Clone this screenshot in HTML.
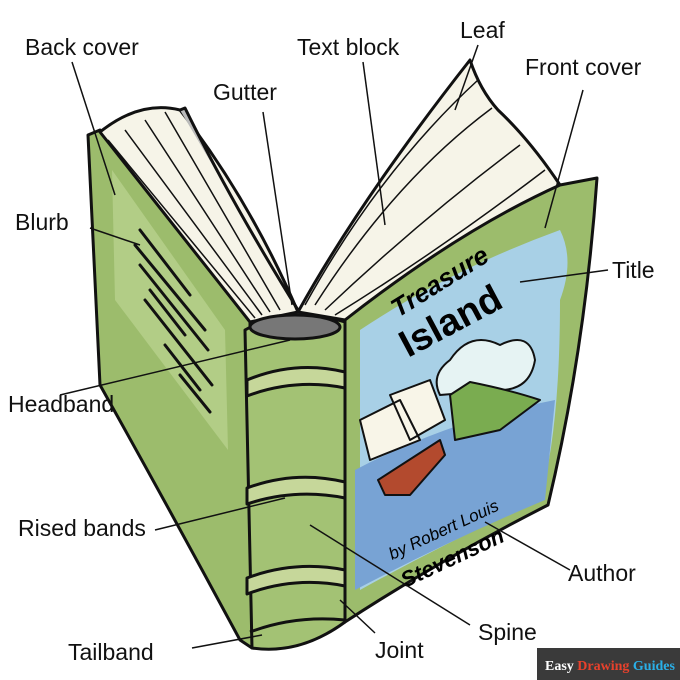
<!DOCTYPE html>
<html><head><meta charset="utf-8"><style>
html,body{margin:0;padding:0;background:#fff;}
svg{display:block}
.l{font-family:"Liberation Sans",sans-serif;font-size:23px;fill:#111;}
</style></head><body>
<svg width="680" height="680" viewBox="0 0 680 680" xmlns="http://www.w3.org/2000/svg">
<g stroke="#111" stroke-width="3" stroke-linejoin="round">
<path d="M88,135 L100,130 L250,322 L252,648 L240,640 Q170,510 100,385 Z" fill="#9cbc6c"/>
<path d="M112,170 L225,330 L228,450 L115,300 Z" fill="#b2cd86" stroke="none"/>
<path d="M100,132 Q140,100 180,110 Q250,200 298,312 L250,322 Z" fill="#f6f4e8"/>
<path d="M180,110 L185,108 Q230,200 298,310" fill="#bbb" />
<path d="M108,140 L255,318 M125,130 L262,315 M145,120 L270,312 M165,112 L280,310" fill="none" stroke-width="1.5"/>
<path d="M298,312 Q360,200 470,60 Q480,90 498,110 Q530,140 560,185 L345,320 Z" fill="#f6f4e8"/>
<path d="M305,305 Q380,170 478,80 M315,305 Q395,180 492,108 M325,310 Q420,220 520,145 M335,315 Q440,250 545,170" fill="none" stroke-width="1.5"/>
<path d="M345,320 Q460,230 560,185 L597,178 Q585,350 548,505 Q440,560 345,622 Z" fill="#9cbc6c"/>
<path d="M360,330 Q450,270 560,230 Q575,260 560,300 Q560,430 540,500 Q450,540 360,590 Z" fill="#a8d0e6" stroke="none"/>
<path d="M355,470 Q450,420 555,400 L545,500 Q450,540 355,590 Z" fill="#78a3d4" stroke="none"/>
<path d="M450,360 Q470,330 500,345 Q530,330 535,360 Q530,390 500,390 L440,395 Q430,375 450,360 Z" fill="#e6f3f3" stroke-width="2"/>
<path d="M450,395 L470,382 Q510,390 540,400 L500,430 L455,440 Z" fill="#7aac50" stroke-width="2"/>
<path d="M378,480 L440,440 L445,455 L410,495 L385,495 Z" fill="#b34a2e" stroke-width="2"/>
<path d="M360,420 L400,400 L420,440 L370,460 Z M390,395 L430,380 L445,420 L410,440 Z" fill="#f8f5e8" stroke-width="2"/>
<path d="M245,330 Q290,305 345,322 L345,622 Q300,655 252,648 Z" fill="#a3c274"/>
<ellipse cx="295" cy="327" rx="45" ry="12" fill="#777"/>
<path d="M247,380 Q295,360 345,372 L345,388 Q295,378 247,396 Z" fill="#c6d79a"/>
<path d="M247,488 Q295,470 345,482 L345,498 Q295,488 247,504 Z" fill="#c6d79a"/>
<path d="M247,578 Q295,560 345,570 L345,586 Q295,576 247,594 Z" fill="#c6d79a"/>
<path d="M250,632 Q295,615 345,620" fill="none"/>
</g>
<g stroke="#111" stroke-width="3" stroke-linecap="round">
<path d="M140,230 L190,295 M135,245 L205,330 M140,265 L208,350 M150,290 L185,335 M145,300 L212,385 M165,345 L200,390 M180,375 L210,412"/>
</g>
<text x="398" y="318" font-family="Liberation Sans,sans-serif" font-size="26" font-weight="bold" font-style="italic" transform="rotate(-32 398 318)">Treasure</text>
<text x="408" y="358" font-family="Liberation Sans,sans-serif" font-size="38" font-weight="bold" transform="rotate(-28 408 358)">Island</text>
<text x="392" y="560" font-family="Liberation Sans,sans-serif" font-size="17" font-style="italic" transform="rotate(-25 392 560)">by Robert Louis</text>
<text x="405" y="588" font-family="Liberation Sans,sans-serif" font-size="22" font-weight="bold" font-style="italic" transform="rotate(-25 405 588)">Stevenson</text>
<g stroke="#111" stroke-width="1.5" fill="none">
<path d="M72,62 L115,195"/><path d="M263,112 L292,305"/><path d="M363,62 L385,225"/>
<path d="M478,45 L455,110"/><path d="M583,90 L545,228"/><path d="M90,228 L140,245"/>
<path d="M608,270 L520,282"/><path d="M60,395 L290,340"/><path d="M155,530 L285,498"/>
<path d="M192,648 L262,635"/><path d="M375,633 L340,600"/><path d="M470,625 L310,525"/>
<path d="M570,570 L485,522"/>
</g>
<g class="l">
<text x="25" y="55">Back cover</text>
<text x="297" y="55">Text block</text>
<text x="460" y="38">Leaf</text>
<text x="525" y="75">Front cover</text>
<text x="213" y="100">Gutter</text>
<text x="15" y="230">Blurb</text>
<text x="612" y="278">Title</text>
<text x="8" y="412">Headband</text>
<text x="18" y="536">Rised bands</text>
<text x="568" y="581">Author</text>
<text x="478" y="640">Spine</text>
<text x="68" y="660">Tailband</text>
<text x="375" y="658">Joint</text>
</g>
<rect x="537" y="648" width="143" height="32" fill="#3a3a3a"/>
<text x="545" y="670" font-family="Liberation Serif,serif" font-size="14" font-weight="bold"><tspan fill="#fff">Easy </tspan><tspan fill="#e8412c">Drawing </tspan><tspan fill="#2ab0e8">Guides</tspan></text>
</svg>
</body></html>
